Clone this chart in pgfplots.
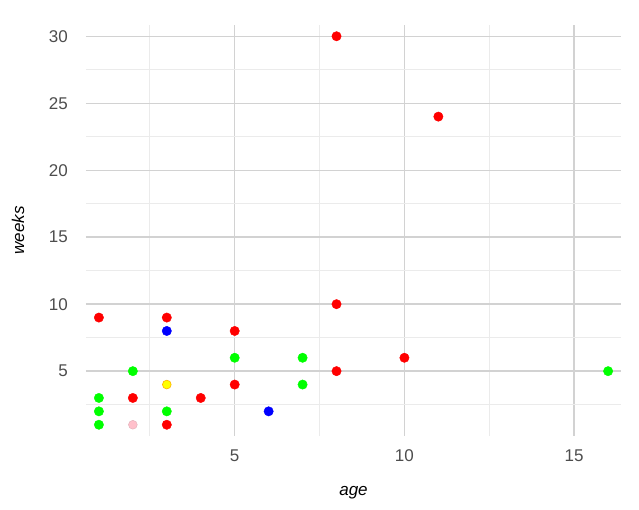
\documentclass[border=0pt]{standalone}
\usepackage{pgfplots}
\pgfplotsset{compat=1.18}
\usepackage{fontspec}
\setmainfont{Liberation Sans}
\definecolor{ticklab}{HTML}{4D4D4D}
\definecolor{majgrid}{HTML}{D2D2D2}
\definecolor{mingrid}{HTML}{EBEBEB}
\definecolor{ptred}{HTML}{FF0000}
\definecolor{ptgreen}{HTML}{00FF00}
\definecolor{ptblue}{HTML}{0000FF}
\definecolor{ptyellow}{HTML}{FFFF00}
\definecolor{ptyellowedge}{HTML}{FFB000}
\definecolor{ptpink}{HTML}{FFC0CB}
\begin{document}
\begin{tikzpicture}
\path[use as bounding box] (-86pt,-74pt) rectangle (553pt,436pt);
\begin{axis}[
  at={(0,0)}, anchor=south west,
  scale only axis, width=535pt, height=411pt,
  xmin=0.62, xmax=16.38, ymin=0.16, ymax=30.84,
  axis line style={draw=none},
  tick style={draw=none},
  xtick={5,10,15}, ytick={5,10,15,20,25,30},
  minor xtick={2.5,7.5,12.5},
  minor ytick={2.5,7.5,12.5,17.5,22.5,27.5},
  grid=both,
  major grid style={color=majgrid, line width=1.4pt},
  minor grid style={color=mingrid, line width=1.2pt},
  /pgf/number format/assume math mode=true,
  every tick label/.append style={font=\fontsize{17}{17}\selectfont, text=ticklab},
  xticklabel style={anchor=center, yshift=-20pt},
  yticklabel style={anchor=east, inner sep=0pt, xshift=-18pt},
  xlabel={age}, ylabel={weeks},
  xlabel style={at={(axis description cs:0.5,-0.1387)}, anchor=center, font=\fontsize{17}{17}\selectfont\itshape},
  ylabel style={at={(axis description cs:-0.127,0.5)}, anchor=center, font=\fontsize{17}{17}\selectfont\itshape},
]
\addplot[only marks, mark=*, mark size=4.7pt, color=ptred, mark options={fill=ptred, draw=ptred}] coordinates {
 (1,9) (2,3) (3,9) (3,1) (4,3) (5,8) (5,4) (8,30) (8,10) (8,5) (10,6) (11,24)
};
\addplot[only marks, mark=*, mark size=4.7pt, color=ptgreen, mark options={fill=ptgreen, draw=ptgreen}] coordinates {
 (1,3) (1,2) (1,1) (2,5) (3,2) (5,6) (7,6) (7,4) (16,5)
};
\addplot[only marks, mark=*, mark size=4.7pt, color=ptblue, mark options={fill=ptblue, draw=ptblue}] coordinates {
 (3,8) (6,2)
};
\addplot[only marks, mark=*, mark size=4.4pt, color=ptyellowedge, mark options={fill=ptyellow, draw=ptyellowedge, line width=0.6pt}] coordinates {
 (3,4)
};
\addplot[only marks, mark=*, mark size=4.4pt, color=ptpink, mark options={fill=ptpink, draw=ptpink!80!gray, line width=0.5pt}] coordinates {
 (2,1)
};
\end{axis}
\end{tikzpicture}
\end{document}
